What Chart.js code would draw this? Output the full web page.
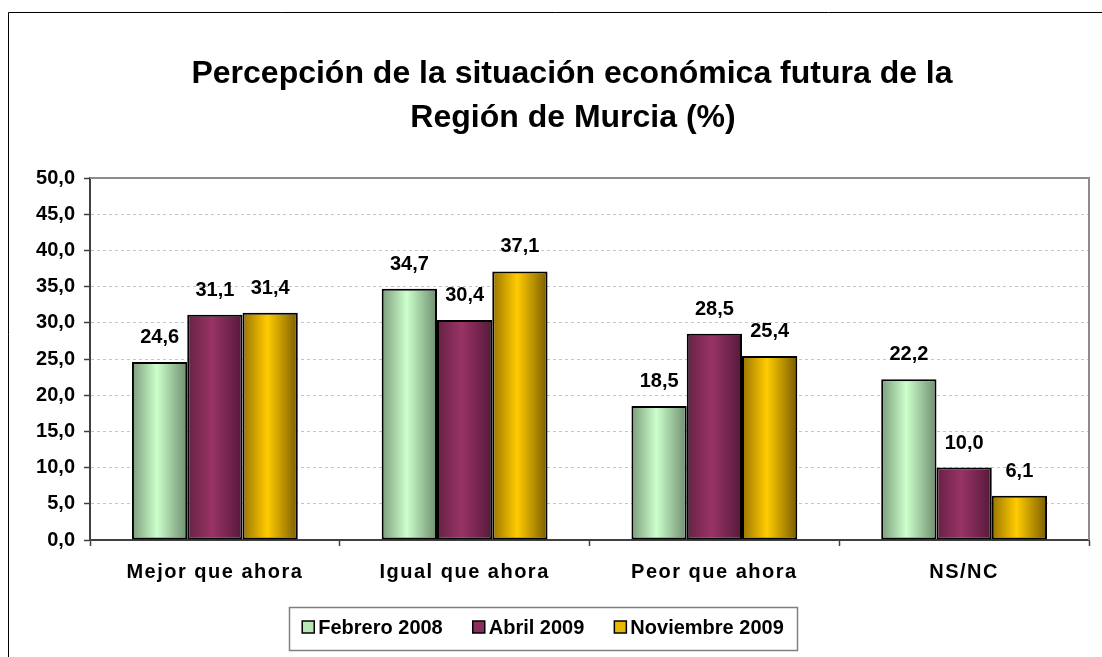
<!DOCTYPE html>
<html>
<head>
<meta charset="utf-8">
<script src="https://cdn.jsdelivr.net/npm/chart.js@4.4.1/dist/chart.umd.min.js"></script>
<style>
  html, body { margin: 0; padding: 0; background: #fff; }
  #wrap { width: 1102px; height: 657px; }
</style>
</head>
<body>
<div id="wrap"><canvas id="grafico" width="1102" height="657"></canvas></div>
<script>
// datos
const categorias = ['Mejor que ahora', 'Igual que ahora', 'Peor que ahora', 'NS/NC'];
const febrero2008 = [24.6, 34.7, 18.5, 22.2];
const abril2009 = [31.1, 30.4, 28.5, 10.0];
const noviembre2009 = [31.4, 37.1, 25.4, 6.1];
const series = ['Febrero 2008', 'Abril 2009', 'Noviembre 2009'];
const titulo = ['Percepción de la situación económica futura de la', 'Región de Murcia (%)'];
const ejeMin = 0, ejeMax = 50, ejePaso = 5;

const FUENTE = '"Liberation Sans", Arial, sans-serif';
const fmt = v => v.toFixed(1).replace('.', ',');

// colores degradados (borde izq, centro, borde der)
const degradados = [
    ['#7c9c7c', '#ccffcc', '#6e8e6e'],
    ['#662244', '#993366', '#55193a'],
    ['#9a7400', '#ffcc00', '#7a5c00']
];
const colorLeyenda = ['#b8e8b8', '#8a2e5c', '#e6b800'];

const plugin = {
    id: 'estilo',
    afterLayout(chart) {
        // etiquetas del eje x un poco espaciadas, como en Excel
        const s = chart.scales.x;
        if (!s._espaciado) {
            const orig = s.drawLabels.bind(s);
            s.drawLabels = area => {
                chart.ctx.save();
                chart.ctx.letterSpacing = '1.5px';
                orig(area);
                chart.ctx.restore();
            };
            s._espaciado = true;
        }
    },
    beforeDraw(chart) {
        const c = chart.ctx;
        c.save();
        c.strokeStyle = '#000';
        c.lineWidth = 1;
        c.beginPath();
        c.moveTo(8.5, 657);
        c.lineTo(8.5, 12.5);
        c.lineTo(1102, 12.5);
        c.stroke();
        c.restore();
    },
    beforeDatasetsDraw(chart) {
        const c = chart.ctx;
        const a = chart.chartArea;
        // borde gris del area
        c.save();
        c.strokeStyle = '#8c8c8c';
        c.lineWidth = 2;
        c.beginPath();
        c.moveTo(a.left, a.top);
        c.lineTo(a.right, a.top);
        c.lineTo(a.right, a.bottom);
        c.stroke();
        c.restore();
        // degradado de cada barra
        chart.data.datasets.forEach((ds, i) => {
            chart.getDatasetMeta(i).data.forEach(bar => {
                const p = bar.getProps(['x', 'width'], true);
                const g = c.createLinearGradient(p.x - p.width / 2, 0, p.x + p.width / 2, 0);
                g.addColorStop(0, degradados[i][0]);
                g.addColorStop(0.45, degradados[i][1]);
                g.addColorStop(1, degradados[i][2]);
                bar.options.backgroundColor = g;
            });
        });
    },
    afterDatasetsDraw(chart) {
        const c = chart.ctx;
        c.save();
        c.font = 'bold 20px ' + FUENTE;
        c.fillStyle = '#000';
        c.textAlign = 'center';
        c.textBaseline = 'alphabetic';
        chart.data.datasets.forEach((ds, i) => {
            chart.getDatasetMeta(i).data.forEach((bar, j) => {
                const p = bar.getProps(['x', 'y'], true);
                c.fillText(fmt(ds.data[j]), p.x, p.y - 19);
            });
        });
        c.restore();
    },
    afterDraw(chart) {
        const c = chart.ctx;
        c.save();
        // titulo
        c.font = 'bold 32px ' + FUENTE;
        c.fillStyle = '#000';
        c.textAlign = 'center';
        c.fillText(titulo[0], 572, 83);
        c.fillText(titulo[1], 573, 127);
        // leyenda
        c.font = 'bold 20px ' + FUENTE;
        c.textAlign = 'left';
        const anchos = series.map(s => c.measureText(s).width);
        const total = anchos.reduce((s, w) => s + 16 + w, 0) + 30 * (series.length - 1);
        const bx = 289, bw = 508, by = 607, bh = 43;
        c.strokeStyle = '#808080';
        c.lineWidth = 1.5;
        c.strokeRect(bx + 0.5, by + 0.5, bw, bh);
        let x = bx + (bw - total) / 2;
        series.forEach((s, i) => {
            c.fillStyle = colorLeyenda[i];
            c.fillRect(x, 621, 12, 12);
            c.strokeStyle = '#000';
            c.lineWidth = 1.5;
            c.strokeRect(x, 621, 12, 12);
            c.fillStyle = '#000';
            c.fillText(s, x + 16, 634);
            x += 16 + anchos[i] + 30;
        });
        c.restore();
    }
};

new Chart(document.getElementById('grafico'), {
    type: 'bar',
    data: {
        labels: categorias,
        datasets: [
            { label: series[0], data: febrero2008 },
            { label: series[1], data: abril2009 },
            { label: series[2], data: noviembre2009 }
        ].map((d, i) => Object.assign(d, {
            // funcion para que cada barra tenga sus propias opciones
            backgroundColor: () => degradados[i][1],
            borderColor: '#000',
            borderWidth: 2,
            borderSkipped: false,
            barPercentage: 1,
            categoryPercentage: 0.664
        }))
    },
    options: {
        responsive: false,
        animation: false,
        devicePixelRatio: 1,
        layout: { padding: { left: 0, right: 13, top: 178, bottom: 0 } },
        plugins: {
            legend: { display: false },
            title: { display: false },
            tooltip: { enabled: false }
        },
        scales: {
            x: {
                afterFit: s => { s.height = 117; },
                grid: {
                    offset: true,
                    drawOnChartArea: false,
                    drawTicks: true,
                    tickLength: 6,
                    tickColor: '#404040',
                    tickWidth: 1.5
                },
                border: { color: '#404040', width: 2 },
                ticks: {
                    color: '#000',
                    padding: 14,
                    font: { family: FUENTE, size: 20, weight: 'bold' }
                }
            },
            y: {
                min: ejeMin,
                max: ejeMax,
                afterFit: s => { s.width = 90; },
                grid: {
                    color: ctx => (ctx.tick && ctx.tick.value === ejeMax) ? 'rgba(0,0,0,0)' : '#c4c4c4',
                    lineWidth: 1,
                    drawTicks: true,
                    tickLength: 6,
                    tickColor: '#404040',
                    tickWidth: 1.5
                },
                border: { color: '#404040', width: 2, dash: [3, 3] },
                ticks: {
                    stepSize: ejePaso,
                    color: '#000',
                    padding: 9,
                    callback: v => fmt(v),
                    font: { family: FUENTE, size: 20, weight: 'bold' }
                }
            }
        }
    },
    plugins: [plugin]
});
</script>
</body>
</html>
